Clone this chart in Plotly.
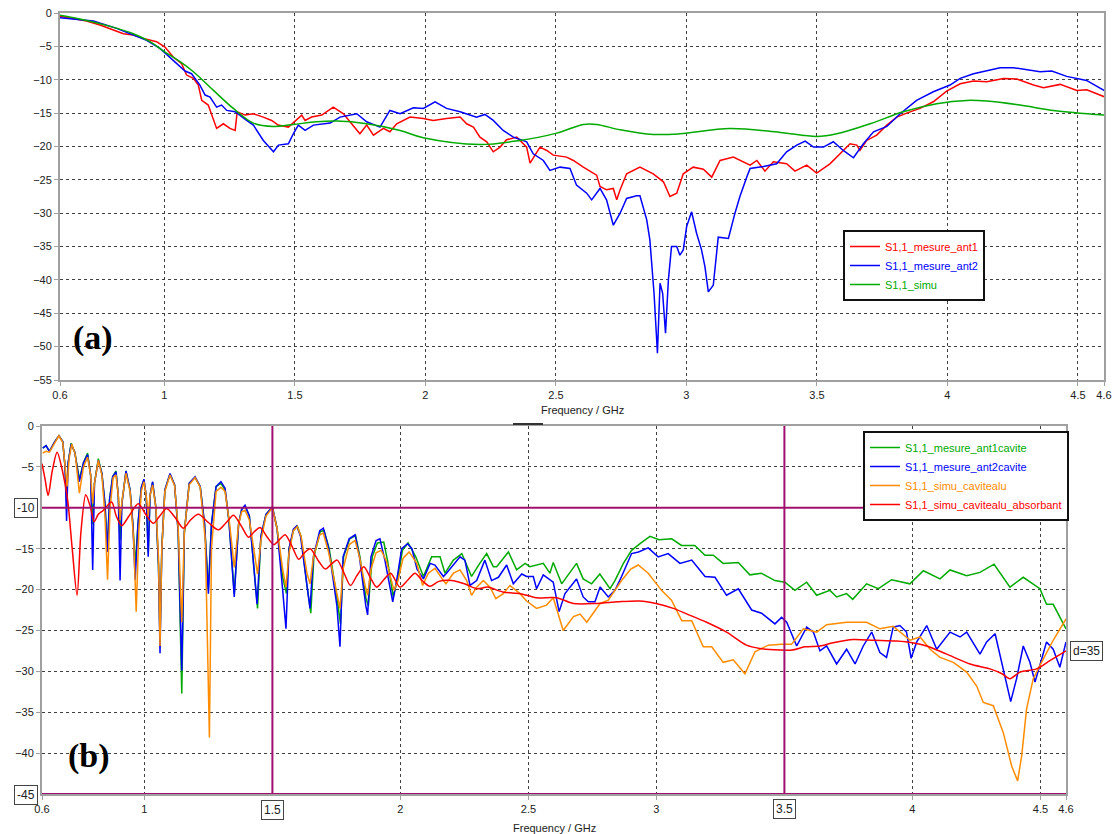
import plotly.graph_objects as go

# ---------------- panel (a) data ----------------
a_ant1_f = [0.600, 0.702, 0.753, 0.804, 0.843, 0.881, 0.919, 0.970, 1.002, 1.034, 1.066, 1.085, 1.111, 1.130,
            1.143, 1.168, 1.194, 1.200, 1.226, 1.251, 1.271, 1.279, 1.309, 1.341, 1.379, 1.411, 1.436, 1.475,
            1.526, 1.539, 1.564, 1.603, 1.647, 1.686, 1.711, 1.749, 1.775, 1.801, 1.839, 1.864, 1.890, 1.941,
            1.992, 2.030, 2.081, 2.133, 2.158, 2.184, 2.209, 2.235, 2.260, 2.286, 2.311, 2.350, 2.388, 2.401,
            2.439, 2.465, 2.490, 2.541, 2.567, 2.605, 2.656, 2.669, 2.694, 2.720, 2.733, 2.746, 2.771, 2.822,
            2.873, 2.912, 2.937, 2.963, 2.988, 3.026, 3.065, 3.097, 3.129, 3.180, 3.244, 3.270, 3.301, 3.333,
            3.384, 3.416, 3.461, 3.499, 3.550, 3.576, 3.627, 3.653, 3.665, 3.691, 3.729, 3.768, 3.806, 3.844,
            3.895, 3.946, 3.997, 4.049, 4.100, 4.151, 4.215, 4.266, 4.330, 4.368, 4.432, 4.496, 4.534, 4.604]
a_ant1_db = [-0.5, -1.2, -1.8, -2.5, -3.1, -3.3, -3.8, -4.3, -5.1, -6.6, -7.6, -9.3, -9.8, -10.8,
             -13.1, -13.8, -16.8, -17.3, -16.6, -17.3, -17.6, -14.8, -15.3, -15.1, -15.6, -16.1, -16.8, -17.1,
             -15.3, -16.1, -15.6, -15.3, -14.1, -15.1, -16.3, -18.1, -16.8, -18.3, -17.3, -17.8, -16.6, -15.6,
             -15.8, -16.1, -15.8, -15.6, -16.6, -17.1, -18.6, -19.3, -20.8, -20.1, -19.0, -18.6, -20.1, -22.5,
             -20.1, -20.6, -21.3, -21.6, -22.1, -23.1, -24.3, -26.0, -26.5, -26.3, -28.0, -26.5, -24.1, -23.1,
             -24.1, -25.3, -27.5, -27.0, -24.1, -23.1, -23.4, -24.6, -22.1, -21.6, -22.8, -22.1, -23.7, -22.3,
             -22.6, -23.7, -22.8, -24.0, -22.6, -21.6, -19.6, -19.8, -20.6, -19.1, -18.3, -16.8, -15.6, -15.0,
             -14.3, -13.3, -11.7, -10.6, -10.2, -10.3, -9.8, -9.9, -10.8, -11.2, -10.7, -11.6, -11.5, -12.6]

a_ant2_f = [0.600, 0.728, 0.817, 0.881, 0.932, 0.983, 1.034, 1.079, 1.104, 1.136, 1.156, 1.175, 1.200, 1.219,
            1.239, 1.271, 1.315, 1.341, 1.379, 1.418, 1.437, 1.475, 1.494, 1.513, 1.539, 1.571, 1.635, 1.673,
            1.737, 1.775, 1.826, 1.864, 1.903, 1.954, 1.992, 2.037, 2.081, 2.133, 2.196, 2.228, 2.260, 2.298,
            2.337, 2.388, 2.413, 2.452, 2.477, 2.516, 2.554, 2.579, 2.618, 2.637, 2.669, 2.694, 2.720, 2.746,
            2.771, 2.809, 2.822, 2.848, 2.860, 2.876, 2.889, 2.899, 2.909, 2.920, 2.931, 2.943, 2.963, 2.975,
            2.988, 3.001, 3.020, 3.039, 3.058, 3.071, 3.084, 3.103, 3.122, 3.161, 3.186, 3.205, 3.231, 3.244,
            3.295, 3.346, 3.384, 3.423, 3.455, 3.487, 3.525, 3.563, 3.601, 3.640, 3.678, 3.717, 3.768, 3.819,
            3.882, 3.946, 4.010, 4.049, 4.100, 4.151, 4.202, 4.253, 4.304, 4.355, 4.400, 4.457, 4.533, 4.604]
a_ant2_db = [-0.7, -1.2, -2.3, -3.3, -4.1, -5.3, -7.1, -8.7, -9.1, -10.8, -12.3, -12.6, -14.1, -13.8,
             -14.6, -14.8, -16.1, -16.8, -19.1, -20.8, -19.8, -19.6, -18.1, -16.8, -17.6, -16.8, -16.5, -15.6,
             -15.1, -16.3, -17.1, -14.6, -15.1, -14.2, -14.3, -13.3, -14.3, -14.8, -15.6, -15.2, -16.1, -17.6,
             -18.6, -19.3, -21.1, -22.1, -23.6, -23.1, -23.3, -25.8, -27.0, -28.0, -26.3, -28.0, -31.8, -30.0,
             -27.8, -27.4, -27.4, -31.0, -34.0, -42.0, -51.0, -40.5, -42.0, -48.0, -40.0, -35.0, -35.0, -36.3,
             -35.5, -32.0, -29.8, -33.0, -35.5, -38.0, -41.8, -40.8, -33.6, -33.8, -30.0, -27.5, -24.6, -23.3,
             -23.0, -22.6, -20.8, -19.8, -19.2, -20.1, -20.1, -19.3, -20.6, -21.7, -19.6, -17.8, -17.0, -15.1,
             -13.1, -11.8, -10.8, -9.8, -9.1, -8.7, -8.2, -8.2, -8.5, -8.8, -8.7, -9.5, -10.1, -11.7]

a_simu_f = [0.600, 0.689, 0.792, 0.881, 0.945, 1.000, 1.060, 1.111, 1.188, 1.264, 1.341, 1.418, 1.494, 1.583,
            1.660, 1.775, 1.903, 1.992, 2.209, 2.362, 2.503, 2.605, 2.656, 2.746, 2.873, 2.975, 3.167, 3.359,
            3.499, 3.576, 3.704, 3.831, 3.959, 4.074, 4.151, 4.278, 4.406, 4.604]
a_simu_db = [-0.35, -1.0, -2.0, -3.1, -4.3, -5.8, -7.3, -8.8, -11.6, -14.3, -16.5, -17.0, -16.7, -16.3,
             -16.2, -16.6, -17.6, -18.7, -19.7, -19.1, -18.0, -16.7, -16.7, -17.5, -18.2, -18.1, -17.3, -17.9,
             -18.5, -18.1, -16.6, -14.8, -13.6, -13.1, -13.2, -13.8, -14.6, -15.3]

# ---------------- panel (b) data ----------------
b_ant1_f = [0.603, 0.616, 0.629, 0.650, 0.666, 0.681, 0.690, 0.696, 0.702, 0.714, 0.728, 0.746, 0.762, 0.778,
            0.790, 0.798, 0.805, 0.820, 0.834, 0.846, 0.855, 0.864, 0.876, 0.889, 0.898, 0.905, 0.912, 0.928,
            0.944, 0.955, 0.964, 0.975, 0.988, 0.998, 1.007, 1.015, 1.022, 1.032, 1.045, 1.055, 1.061, 1.068,
            1.080, 1.100, 1.118, 1.132, 1.146, 1.156, 1.175, 1.198, 1.218, 1.235, 1.250, 1.262, 1.280, 1.299,
            1.315, 1.330, 1.351, 1.368, 1.380, 1.393, 1.410, 1.428, 1.442, 1.455, 1.475, 1.500, 1.518, 1.540,
            1.555, 1.565, 1.582, 1.597, 1.612, 1.635, 1.650, 1.662, 1.687, 1.702, 1.722, 1.752, 1.766, 1.778,
            1.802, 1.825, 1.842, 1.865, 1.875, 1.890, 1.910, 1.935, 1.950, 1.972, 1.990, 2.008, 2.030, 2.060,
            2.090, 2.122, 2.155, 2.174, 2.207, 2.240, 2.278, 2.310, 2.337, 2.363, 2.376, 2.422, 2.454, 2.487,
            2.506, 2.558, 2.584, 2.597, 2.630, 2.688, 2.714, 2.747, 2.779, 2.819, 2.838, 2.871, 2.903, 2.940,
            2.975, 3.010, 3.060, 3.098, 3.150, 3.190, 3.222, 3.261, 3.320, 3.365, 3.410, 3.463, 3.502, 3.541,
            3.587, 3.626, 3.678, 3.704, 3.743, 3.767, 3.821, 3.867, 3.919, 3.990, 4.043, 4.108, 4.147, 4.212,
            4.264, 4.319, 4.381, 4.433, 4.498, 4.524, 4.550, 4.600]
b_ant1_db = [-2.7, -2.4, -3.1, -1.9, -1.2, -1.9, -5.0, -9.0, -4.5, -2.1, -3.2, -6.5, -4.5, -3.3,
             -6.0, -12.0, -7.0, -4.0, -5.8, -9.5, -15.0, -9.0, -6.2, -5.5, -8.5, -14.0, -9.5, -5.5,
             -7.8, -12.0, -17.0, -12.0, -7.5, -6.6, -8.5, -15.5, -8.5, -6.9, -10.0, -17.0, -26.0, -15.0,
             -7.8, -5.9, -7.2, -13.0, -32.7, -13.0, -7.0, -6.3, -7.4, -12.0, -20.0, -12.0, -7.4, -7.0,
             -7.8, -11.5, -20.5, -12.0, -10.2, -9.8, -11.0, -17.0, -22.3, -13.5, -10.8, -9.9, -12.5, -18.5,
             -20.5, -15.0, -12.8, -12.2, -13.5, -19.5, -22.9, -16.0, -12.9, -12.8, -15.0, -21.0, -24.2, -16.0,
             -13.8, -13.4, -16.0, -21.0, -22.0, -16.0, -14.3, -14.2, -16.5, -20.9, -18.5, -15.2, -14.3, -16.0,
             -18.4, -16.0, -16.0, -18.0, -16.4, -15.6, -18.4, -16.8, -15.6, -17.2, -17.2, -15.4, -17.6, -16.8,
             -17.2, -16.8, -18.0, -16.7, -19.3, -16.8, -18.7, -19.3, -18.1, -19.9, -18.9, -16.8, -15.2, -14.3,
             -13.5, -13.9, -13.8, -14.6, -14.6, -15.8, -15.8, -16.8, -16.7, -18.2, -18.0, -18.9, -19.1, -20.1,
             -19.1, -20.7, -20.1, -20.9, -20.5, -21.2, -19.3, -19.9, -18.8, -19.3, -17.7, -18.7, -17.6, -18.3,
             -17.9, -16.9, -19.7, -18.5, -19.9, -21.8, -21.8, -24.8]

b_ant2_f = [0.603, 0.616, 0.629, 0.650, 0.666, 0.681, 0.690, 0.696, 0.702, 0.714, 0.728, 0.746, 0.762, 0.778,
            0.790, 0.798, 0.805, 0.820, 0.834, 0.846, 0.855, 0.864, 0.876, 0.889, 0.898, 0.905, 0.912, 0.928,
            0.944, 0.955, 0.964, 0.975, 0.988, 0.998, 1.007, 1.015, 1.022, 1.032, 1.045, 1.055, 1.061, 1.068,
            1.080, 1.100, 1.118, 1.132, 1.146, 1.156, 1.175, 1.198, 1.218, 1.235, 1.250, 1.262, 1.280, 1.299,
            1.315, 1.330, 1.351, 1.368, 1.380, 1.393, 1.410, 1.428, 1.440, 1.455, 1.475, 1.500, 1.518, 1.540,
            1.553, 1.565, 1.582, 1.595, 1.610, 1.635, 1.647, 1.660, 1.685, 1.699, 1.720, 1.752, 1.764, 1.776,
            1.800, 1.823, 1.840, 1.865, 1.872, 1.885, 1.905, 1.920, 1.940, 1.970, 1.985, 2.005, 2.028, 2.045,
            2.065, 2.090, 2.116, 2.135, 2.168, 2.180, 2.200, 2.233, 2.252, 2.272, 2.298, 2.330, 2.356, 2.383,
            2.415, 2.441, 2.474, 2.493, 2.519, 2.532, 2.558, 2.597, 2.620, 2.643, 2.688, 2.714, 2.734, 2.760,
            2.780, 2.812, 2.838, 2.864, 2.903, 2.930, 2.968, 3.007, 3.046, 3.092, 3.138, 3.190, 3.229, 3.274,
            3.320, 3.372, 3.411, 3.463, 3.489, 3.509, 3.548, 3.587, 3.613, 3.639, 3.665, 3.704, 3.743, 3.776,
            3.808, 3.841, 3.873, 3.899, 3.925, 3.951, 3.977, 3.995, 4.017, 4.056, 4.095, 4.147, 4.186, 4.212,
            4.264, 4.290, 4.323, 4.355, 4.384, 4.407, 4.433, 4.459, 4.479, 4.505, 4.524, 4.550, 4.576, 4.600]
b_ant2_db = [-2.7, -2.4, -3.1, -1.9, -1.2, -1.9, -5.0, -11.6, -4.5, -2.2, -3.2, -6.8, -4.5, -3.5,
             -6.0, -17.6, -7.0, -4.2, -5.8, -9.5, -15.4, -9.0, -6.2, -5.6, -8.5, -18.9, -9.5, -5.5,
             -7.8, -12.0, -18.8, -12.0, -7.5, -6.5, -8.5, -16.0, -8.5, -6.8, -10.0, -17.0, -27.8, -15.0,
             -7.8, -5.8, -7.2, -13.0, -29.9, -13.0, -7.0, -6.2, -7.4, -12.0, -20.5, -12.0, -7.4, -6.8,
             -7.6, -11.5, -20.9, -12.0, -10.2, -9.7, -11.0, -17.0, -21.8, -13.5, -10.8, -9.9, -12.5, -20.0,
             -24.8, -15.0, -12.6, -12.2, -13.5, -19.5, -22.3, -16.0, -12.8, -12.5, -15.0, -22.0, -27.0, -16.0,
             -13.8, -13.3, -16.0, -22.0, -23.1, -16.0, -14.0, -13.8, -16.5, -21.5, -19.0, -15.0, -14.4, -15.0,
             -17.5, -18.7, -16.8, -17.0, -18.4, -18.0, -17.2, -16.0, -16.4, -19.5, -18.9, -16.4, -18.9, -18.5,
             -17.0, -19.3, -18.1, -18.4, -18.4, -19.9, -18.2, -19.1, -22.7, -20.5, -18.7, -20.9, -21.5, -21.5,
             -19.7, -20.9, -20.1, -18.4, -15.6, -15.4, -14.9, -16.0, -15.6, -16.8, -16.4, -18.4, -18.5, -20.7,
             -19.9, -22.5, -22.9, -24.2, -23.4, -24.0, -26.9, -24.6, -25.2, -27.5, -26.9, -29.1, -27.3, -29.1,
             -26.9, -25.2, -27.7, -28.3, -24.6, -24.4, -25.2, -28.4, -26.4, -24.4, -27.3, -25.2, -25.8, -25.2,
             -27.9, -26.4, -25.4, -29.7, -33.7, -30.9, -26.9, -28.9, -31.3, -28.5, -26.4, -27.3, -29.5, -26.4]

b_simu_f = [0.603, 0.616, 0.629, 0.650, 0.666, 0.681, 0.690, 0.698, 0.706, 0.716, 0.730, 0.746, 0.762, 0.778,
            0.790, 0.798, 0.805, 0.820, 0.834, 0.846, 0.856, 0.866, 0.878, 0.889, 0.898, 0.905, 0.913, 0.928,
            0.944, 0.958, 0.968, 0.978, 0.988, 0.998, 1.007, 1.015, 1.022, 1.032, 1.045, 1.055, 1.061, 1.068,
            1.080, 1.100, 1.118, 1.132, 1.146, 1.156, 1.175, 1.198, 1.218, 1.238, 1.254, 1.262, 1.280, 1.299,
            1.315, 1.333, 1.351, 1.368, 1.380, 1.393, 1.410, 1.430, 1.442, 1.455, 1.475, 1.500, 1.518, 1.540,
            1.553, 1.565, 1.582, 1.597, 1.612, 1.635, 1.647, 1.660, 1.685, 1.699, 1.720, 1.752, 1.764, 1.776,
            1.800, 1.823, 1.840, 1.862, 1.872, 1.885, 1.905, 1.925, 1.945, 1.975, 1.990, 2.010, 2.034, 2.064,
            2.087, 2.109, 2.135, 2.168, 2.178, 2.207, 2.233, 2.259, 2.278, 2.298, 2.324, 2.350, 2.373, 2.402,
            2.428, 2.467, 2.493, 2.532, 2.571, 2.597, 2.636, 2.676, 2.702, 2.728, 2.760, 2.780, 2.812, 2.864,
            2.900, 2.929, 2.968, 3.020, 3.059, 3.099, 3.138, 3.183, 3.216, 3.261, 3.300, 3.346, 3.385, 3.437,
            3.489, 3.528, 3.574, 3.626, 3.665, 3.743, 3.821, 3.873, 3.925, 3.991, 4.030, 4.069, 4.108, 4.160,
            4.212, 4.251, 4.277, 4.316, 4.355, 4.388, 4.411, 4.427, 4.446, 4.472, 4.511, 4.550, 4.600]
b_simu_db = [-3.3, -3.1, -3.2, -2.0, -1.2, -2.0, -4.5, -7.4, -4.0, -2.2, -3.5, -8.2, -5.0, -3.8,
             -6.0, -9.5, -7.0, -4.2, -6.0, -11.0, -18.8, -10.0, -6.3, -6.0, -8.5, -11.5, -9.0, -5.8,
             -8.0, -14.0, -22.7, -13.0, -8.0, -6.8, -8.5, -11.0, -8.5, -7.2, -10.0, -16.0, -26.9, -15.0,
             -8.0, -6.0, -7.3, -12.5, -24.0, -13.0, -7.2, -6.3, -7.5, -14.0, -38.1, -15.0, -8.0, -7.5,
             -8.0, -12.0, -17.3, -12.0, -10.5, -10.3, -11.5, -16.0, -18.1, -14.0, -11.0, -10.0, -12.5, -17.5,
             -19.7, -15.5, -12.8, -12.3, -13.5, -18.0, -19.3, -16.0, -13.3, -13.1, -15.5, -20.5, -22.3, -17.5,
             -14.5, -14.0, -16.0, -19.5, -20.7, -17.5, -15.5, -15.2, -16.5, -20.1, -19.0, -16.2, -15.4, -16.8,
             -19.5, -18.0, -17.4, -18.9, -19.3, -18.0, -17.6, -18.9, -20.7, -19.7, -18.9, -19.7, -21.1, -20.5,
             -19.5, -20.5, -21.4, -22.3, -21.9, -21.0, -25.0, -23.3, -23.0, -24.0, -22.5, -21.7, -21.3, -18.9,
             -17.5, -17.0, -18.0, -20.1, -21.3, -23.8, -23.8, -27.0, -27.0, -28.9, -28.6, -30.3, -27.6, -26.8,
             -26.7, -26.7, -24.8, -25.2, -24.3, -24.0, -24.0, -24.8, -24.5, -26.2, -25.8, -27.3, -28.3, -28.9,
             -30.1, -31.8, -33.8, -34.2, -37.5, -41.6, -43.4, -40.3, -34.6, -30.9, -28.5, -26.2, -23.6]

b_abs_f = [0.600, 0.612, 0.624, 0.640, 0.659, 0.680, 0.700, 0.718, 0.737, 0.752, 0.771, 0.790, 0.804, 0.820,
           0.840, 0.872, 0.890, 0.911, 0.940, 0.976, 1.005, 1.035, 1.060, 1.087, 1.120, 1.152, 1.180, 1.211,
           1.250, 1.289, 1.320, 1.348, 1.380, 1.407, 1.430, 1.452, 1.480, 1.505, 1.530, 1.550, 1.578, 1.603,
           1.625, 1.648, 1.680, 1.707, 1.730, 1.753, 1.780, 1.805, 1.830, 1.857, 1.882, 1.907, 1.935, 1.962,
           1.998, 2.030, 2.057, 2.085, 2.115, 2.150, 2.200, 2.250, 2.300, 2.340, 2.400, 2.470, 2.530, 2.610,
           2.675, 2.766, 2.850, 2.933, 2.998, 3.066, 3.120, 3.196, 3.274, 3.352, 3.404, 3.483, 3.530, 3.580,
           3.639, 3.690, 3.769, 3.850, 3.938, 4.000, 4.056, 4.134, 4.225, 4.303, 4.350, 4.381, 4.420, 4.485,
           4.537, 4.600]
b_abs_db = [-4.6, -6.5, -8.5, -5.5, -3.2, -5.5, -9.0, -15.0, -20.7, -13.0, -8.4, -10.0, -11.7, -10.8,
            -10.3, -9.3, -11.0, -12.2, -11.0, -9.5, -10.8, -11.9, -11.0, -10.1, -11.2, -12.5, -11.5, -10.8,
            -11.8, -12.7, -11.8, -10.9, -12.3, -13.6, -12.9, -12.4, -13.6, -14.5, -13.8, -13.3, -14.8, -16.3,
            -15.5, -15.0, -16.5, -17.5, -16.9, -16.4, -18.0, -19.5, -18.3, -17.2, -18.5, -19.7, -18.8, -18.0,
            -19.7, -18.8, -18.0, -18.9, -19.6, -19.0, -18.9, -19.3, -19.9, -19.7, -20.3, -20.5, -21.0, -21.0,
            -21.7, -21.7, -21.5, -21.4, -21.7, -22.3, -23.0, -24.0, -25.2, -26.8, -27.2, -27.4, -27.4, -27.0,
            -26.9, -26.5, -26.1, -26.2, -26.3, -26.5, -26.9, -27.9, -29.1, -29.7, -30.3, -30.9, -30.1, -29.7,
            -28.7, -27.5]

x_ticks = [0.6, 1, 1.5, 2, 2.5, 3, 3.5, 4, 4.5, 4.6]
x_tick_text = ["0.6", "1", "1.5", "2", "2.5", "3", "3.5", "4", "4.5", "4.6"]
xb_ticks = [0.6, 1, 2, 2.5, 3, 4, 4.5, 4.6]
xb_tick_text = ["0.6", "1", "2", "2.5", "3", "4", "4.5", "4.6"]
ya_ticks = [0, -5, -10, -15, -20, -25, -30, -35, -40, -45, -50, -55]
yb_ticks = [0, -5, -15, -20, -25, -30, -35, -40]
marker_y = [-10, -45]
marker_x = [1.5, 3.5]

# ---------------- styling ----------------
W, H = 1113, 834
FONT = "Liberation Sans, Arial, sans-serif"
GRID = "#404040"
SPINE = "#a0a0a0"
PURPLE = "#A0106E"
RED, BLUE, GREEN, ORANGE = "#FF0000", "#0000FF", "#00AA00", "#FF8C00"


def px(xp):
    return xp / W


def py(yp):
    return 1 - yp / H


def leg(name, color):
    return '<span style="color:%s">%s</span>' % (color, name)


fig = go.Figure()
LW = 1.5
fig.add_trace(go.Scatter(x=a_ant1_f, y=a_ant1_db, mode="lines", line=dict(color=RED, width=LW),
                         name=leg("S1,1_mesure_ant1", RED), xaxis="x", yaxis="y", legend="legend"))
fig.add_trace(go.Scatter(x=a_ant2_f, y=a_ant2_db, mode="lines", line=dict(color=BLUE, width=LW),
                         name=leg("S1,1_mesure_ant2", BLUE), xaxis="x", yaxis="y", legend="legend"))
fig.add_trace(go.Scatter(x=a_simu_f, y=a_simu_db, mode="lines", line=dict(color=GREEN, width=LW, shape="spline"),
                         name=leg("S1,1_simu", GREEN), xaxis="x", yaxis="y", legend="legend"))

fig.add_trace(go.Scatter(x=b_ant1_f, y=b_ant1_db, mode="lines", line=dict(color=GREEN, width=LW),
                         name=leg("S1,1_mesure_ant1cavite", GREEN), xaxis="x2", yaxis="y2", legend="legend2"))
fig.add_trace(go.Scatter(x=b_ant2_f, y=b_ant2_db, mode="lines", line=dict(color=BLUE, width=LW),
                         name=leg("S1,1_mesure_ant2cavite", BLUE), xaxis="x2", yaxis="y2", legend="legend2"))
fig.add_trace(go.Scatter(x=b_simu_f, y=b_simu_db, mode="lines", line=dict(color=ORANGE, width=LW),
                         name=leg("S1,1_simu_cavitealu", ORANGE), xaxis="x2", yaxis="y2", legend="legend2"))
fig.add_trace(go.Scatter(x=b_abs_f, y=b_abs_db, mode="lines", line=dict(color=RED, width=LW, shape="spline",
                                                                       smoothing=0.8),
                         name=leg("S1,1_simu_cavitealu_absorbant", RED), xaxis="x2", yaxis="y2", legend="legend2"))

axis_common = dict(showgrid=True, gridcolor=GRID, griddash="dot", gridwidth=1, zeroline=False,
                   showline=True, linecolor=SPINE, linewidth=2, mirror=True, ticks="outside",
                   ticklen=4, tickcolor=SPINE, tickfont=dict(family=FONT, size=11, color="#222"))

fig.update_layout(
    width=W, height=H, margin=dict(l=0, r=0, t=0, b=0, autoexpand=False),
    paper_bgcolor="white", plot_bgcolor="white",
    font=dict(family=FONT, size=11, color="#222"),
    xaxis=dict(domain=[px(60), px(1104)], range=[0.6, 4.6], anchor="y",
               tickvals=x_ticks, ticktext=x_tick_text, **axis_common),
    yaxis=dict(domain=[py(380), py(13)], range=[-55, 0], anchor="x",
               tickvals=ya_ticks, **axis_common),
    xaxis2=dict(domain=[px(42), px(1066)], range=[0.6, 4.6], anchor="y2",
                tickvals=xb_ticks, ticktext=xb_tick_text, **axis_common),
    yaxis2=dict(domain=[py(794), py(426)], range=[-45, 0], anchor="x2",
                tickvals=yb_ticks, **axis_common),
    legend=dict(x=px(843), y=py(230), xanchor="left", yanchor="top", bgcolor="white",
                bordercolor="#111", borderwidth=2, font=dict(family=FONT, size=11),
                itemwidth=30, tracegroupgap=0),
    legend2=dict(x=px(863), y=py(431), xanchor="left", yanchor="top", bgcolor="white",
                 bordercolor="#111", borderwidth=2, font=dict(family=FONT, size=11),
                 itemwidth=30, tracegroupgap=0),
    showlegend=True,
)

shapes = []
for yv in marker_y:
    shapes.append(dict(type="line", xref="x2", yref="y2", x0=0.6, x1=4.6, y0=yv, y1=yv,
                       line=dict(color=PURPLE, width=2)))
for xv in marker_x:
    shapes.append(dict(type="line", xref="x2", yref="y2", x0=xv, x1=xv, y0=-45, y1=0,
                       line=dict(color=PURPLE, width=2)))
shapes.append(dict(type="line", xref="paper", yref="paper", x0=px(513), x1=px(543), y0=py(424), y1=py(424),
                   line=dict(color="#333", width=2)))
fig.update_layout(shapes=shapes)

ctr = dict(xref="paper", yref="paper", showarrow=False, xanchor="center", yanchor="middle")
ann = []
ann.append(dict(text="<b>(a)</b>", x=px(93), y=py(338),
                font=dict(family="Liberation Serif, DejaVu Serif, serif", size=34, color="black"), **ctr))
ann.append(dict(text="<b>(b)</b>", x=px(89), y=py(756),
                font=dict(family="Liberation Serif, DejaVu Serif, serif", size=34, color="black"), **ctr))
ann.append(dict(text="Frequency / GHz", x=px(582), y=py(410),
                font=dict(family=FONT, size=11, color="#222"), **ctr))
ann.append(dict(text="Frequency / GHz", x=px(554), y=py(828),
                font=dict(family=FONT, size=11, color="#222"), **ctr))
box = dict(bgcolor="white", bordercolor="#444", borderwidth=1, borderpad=2,
           font=dict(family=FONT, size=12, color="#222"), **ctr)
ann.append(dict(text="-10", x=px(26), y=py(507.5), **box))
ann.append(dict(text="-45", x=px(26), y=py(795), **box))
ann.append(dict(text="1.5", x=px(272.5), y=py(810), **box))
ann.append(dict(text="3.5", x=px(784.5), y=py(809), **box))
ann.append(dict(text="d=35", x=px(1086), y=py(650.5), **box))
fig.update_layout(annotations=ann)

fig.write_html("out.html", config={"displayModeBar": False},
               post_script="document.body.style.margin='0';")
